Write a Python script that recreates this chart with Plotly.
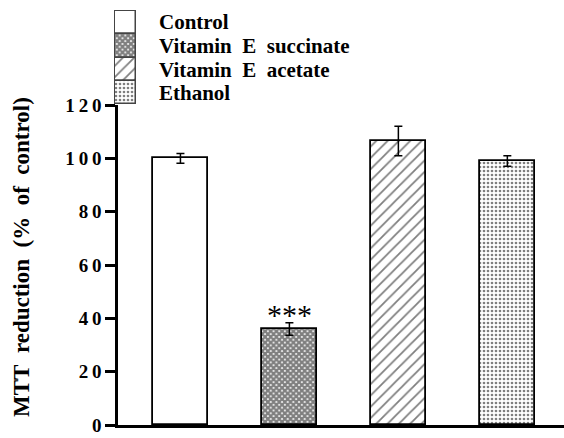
import plotly.graph_objects as go

categories = ["Control", "Vitamin E succinate", "Vitamin E acetate", "Ethanol"]
values = [100, 36, 106.5, 99]
errors = [1.8, 2.3, 5.5, 2.0]
tick_vals = [0, 20, 40, 60, 80, 100, 120]
tick_text = ["0", "2\u20090", "4\u20090", "6\u20090", "8\u20090", "1\u20090\u20090", "1\u20092\u20090"]
legend_labels = ["Control", "Vitamin\u00a0 E\u00a0 succinate", "Vitamin\u00a0 E\u00a0 acetate", "Ethanol"]

W, H = 564, 438
def px_x(p): return p / W
def px_y(p): return 1 - p / H

shapes = ["", "x", "/", "."]
pat_size = [8, 4, 8, 4]
pat_sol = [0.2, 0.8, 0.22, 0.35]

SERIF = "Times New Roman"

fig = go.Figure()
fig.add_trace(go.Bar(
    x=list(range(len(categories))), y=values,
    width=0.5,
    marker=dict(color="white", line=dict(color="black", width=1.8),
                pattern=dict(shape=shapes, size=pat_size, solidity=pat_sol,
                             fgcolor="black", bgcolor="white", fillmode="overlay")),
    error_y=dict(type="data", array=errors, color="black", thickness=1.5, width=4),
    showlegend=False, xaxis="x", yaxis="y",
))

# legend swatches
fig.add_trace(go.Bar(
    y=list(range(len(categories))), x=[1] * len(categories), base=0, orientation="h",
    width=1,
    marker=dict(color="white", line=dict(color="#444", width=1.5),
                pattern=dict(shape=shapes, size=pat_size, solidity=pat_sol,
                             fgcolor="black", bgcolor="white", fillmode="overlay")),
    showlegend=False, xaxis="x2", yaxis="y2", hoverinfo="skip",
))

annotations = []
for i, lab in enumerate(legend_labels):
    annotations.append(dict(
        x=px_x(157), y=px_y([22, 46, 70, 93][i]), xref="paper", yref="paper",
        text="<b>" + lab + "</b>", showarrow=False, xanchor="left", yanchor="middle",
        font=dict(family=SERIF, size=21, color="black"),
    ))
annotations.append(dict(
    x=1, y=values[1] + errors[1], xref="x", yref="y", yshift=-10,
    text="***", showarrow=False, xanchor="center", yanchor="bottom",
    font=dict(family=SERIF, size=30, color="black"),
))
annotations.append(dict(
    x=px_x(21), y=px_y(257), xref="paper", yref="paper",
    text="<b>MTT\u00a0 reduction\u00a0 (%\u00a0 of\u00a0 control)</b>", textangle=-90,
    showarrow=False, xanchor="center", yanchor="middle",
    font=dict(family=SERIF, size=23, color="black"),
))

fig.update_layout(
    width=W, height=H,
    margin=dict(l=0, r=0, t=0, b=0, autoexpand=False),
    plot_bgcolor="white", paper_bgcolor="white",
    bargap=0,
    font=dict(family=SERIF),
    xaxis=dict(domain=[px_x(118), 1], range=[-0.573, 3.52], showticklabels=False,
               ticks="", showgrid=False, zeroline=False, showline=True,
               linecolor="black", linewidth=2.5, fixedrange=True, automargin=False),
    yaxis=dict(domain=[px_y(425), px_y(105)], range=[0, 120], tickvals=tick_vals,
               ticktext=["<b>" + t + "</b>" for t in tick_text], ticks="outside",
               ticklen=10, tickwidth=2.5,
               tickcolor="black", showgrid=False, zeroline=False, showline=True,
               linecolor="black", linewidth=2.5, automargin=False, fixedrange=True,
               tickfont=dict(family=SERIF, size=19, color="black")),
    xaxis2=dict(domain=[px_x(114), px_x(137)], range=[-0.06, 1.06], visible=False,
                anchor="y2", fixedrange=True),
    yaxis2=dict(domain=[px_y(105), px_y(10)], range=[3.55, -0.55], visible=False,
                anchor="x2", fixedrange=True),
    annotations=annotations,
    showlegend=False,
)

fig.write_html("out.html", config={"displayModeBar": False},
               post_script="document.body.style.margin='0';document.body.style.overflow='hidden';")
